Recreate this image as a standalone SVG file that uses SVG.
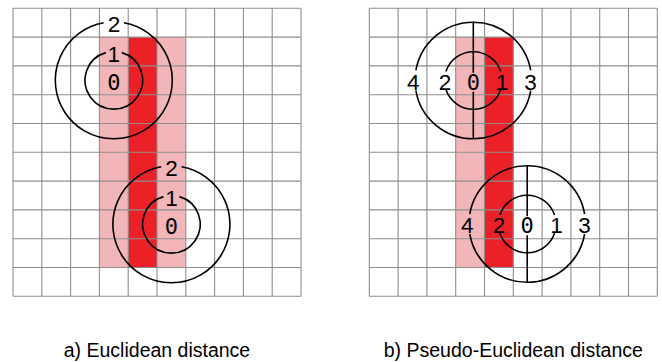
<svg xmlns="http://www.w3.org/2000/svg" width="662" height="362" viewBox="0 0 662 362">
<style>
.grid{fill:none;stroke:#8e8e8e;stroke-width:1.1}
.pink{fill:#f3b6b8}
.red{fill:#ec2127}
.ring{fill:none;stroke:#000;stroke-width:1.6}
.lbl{font-family:"Liberation Sans",Arial,sans-serif;font-size:22.5px;fill:#000;text-anchor:middle}
.zero{font-family:"DejaVu Sans Mono",monospace;font-size:22px;fill:#000;text-anchor:middle}
.cap{font-family:"Liberation Sans",Arial,sans-serif;font-size:19.5px;fill:#000;text-anchor:middle}
</style>
<rect width="662" height="362" fill="#fff"/>
<g id="panel-a">
  <rect class="pink" x="99.4" y="37.1" width="28.8" height="230.4"/>
  <rect class="red" x="128.2" y="37.1" width="28.8" height="230.4"/>
  <rect class="pink" x="157" y="37.1" width="28.8" height="230.4"/>
  <path class="grid" d="M13,8.3V296.3M41.8,8.3V296.3M70.6,8.3V296.3M99.4,8.3V296.3M128.2,8.3V296.3M157,8.3V296.3M185.8,8.3V296.3M214.6,8.3V296.3M243.4,8.3V296.3M272.2,8.3V296.3M301,8.3V296.3M13,8.3H301M13,37.1H301M13,65.9H301M13,94.7H301M13,123.5H301M13,152.3H301M13,181.1H301M13,209.9H301M13,238.7H301M13,267.5H301M13,296.3H301"/>
</g>
<g id="panel-b">
  <rect class="pink" x="455.7" y="37.1" width="28.8" height="230.4"/>
  <rect class="red" x="484.5" y="37.1" width="28.8" height="230.4"/>
  <path class="grid" d="M369.3,8.3V296.3M398.1,8.3V296.3M426.9,8.3V296.3M455.7,8.3V296.3M484.5,8.3V296.3M513.3,8.3V296.3M542.1,8.3V296.3M570.9,8.3V296.3M599.7,8.3V296.3M628.5,8.3V296.3M657.3,8.3V296.3M369.3,8.3H657.3M369.3,37.1H657.3M369.3,65.9H657.3M369.3,94.7H657.3M369.3,123.5H657.3M369.3,152.3H657.3M369.3,181.1H657.3M369.3,209.9H657.3M369.3,238.7H657.3M369.3,267.5H657.3M369.3,296.3H657.3"/>
</g>
<g id="a-top">
  <path class="ring" d="M123.96,22.69A58.5,58.5 0 1 1 103.64,22.69"/>
  <path class="ring" d="M121.79,52.63A28.8,28.8 0 1 1 105.81,52.63"/>
  <text class="lbl" x="114" y="32">2</text>
  <text class="lbl" x="113.8" y="62">1</text>
  <text class="zero" x="113.8" y="89.5">0</text>
</g>
<g id="a-bottom">
  <path class="ring" d="M181.56,166.69A58.5,58.5 0 1 1 161.24,166.69"/>
  <path class="ring" d="M179.39,196.63A28.8,28.8 0 1 1 163.41,196.63"/>
  <text class="lbl" x="171.6" y="176">2</text>
  <text class="lbl" x="171.4" y="206">1</text>
  <text class="zero" x="171.4" y="233.5">0</text>
</g>
<g id="b-top">
  <path class="ring" d="M415.87,70.48A58.3,58.3 0 0 1 530.73,70.48M530.73,90.52A58.3,58.3 0 0 1 415.87,90.52"/>
  <path class="ring" d="M445.94,71.5A28.8,28.8 0 0 1 500.66,71.5M500.66,89.5A28.8,28.8 0 0 1 445.94,89.5"/>
  <path class="ring" d="M473.3,22.2V72.7M473.3,91.7V138.8"/>
  <text class="lbl" x="413.3" y="89.5">4</text>
  <text class="lbl" x="445" y="89.5">2</text>
  <text class="zero" x="473.3" y="89.5">0</text>
  <text class="lbl" x="501.9" y="89.5">1</text>
  <text class="lbl" x="530.6" y="89.5">3</text>
</g>
<g id="b-bottom">
  <path class="ring" d="M469.77,214A58.3,58.3 0 0 1 584.63,214M584.63,234A58.3,58.3 0 0 1 469.77,234"/>
  <path class="ring" d="M499.84,215A28.8,28.8 0 0 1 554.56,215M554.56,233A28.8,28.8 0 0 1 499.84,233"/>
  <path class="ring" d="M527.2,165.7V216.2M527.2,235.2V282.3"/>
  <text class="lbl" x="467.3" y="232.7">4</text>
  <text class="lbl" x="499.1" y="232.7">2</text>
  <text class="zero" x="527.2" y="232.7">0</text>
  <text class="lbl" x="556.4" y="232.7">1</text>
  <text class="lbl" x="584.4" y="232.7">3</text>
</g>
<g id="captions">
  <text class="cap" x="157" y="357">a) Euclidean distance</text>
  <text class="cap" x="513.3" y="357">b) Pseudo-Euclidean distance</text>
</g>
</svg>
